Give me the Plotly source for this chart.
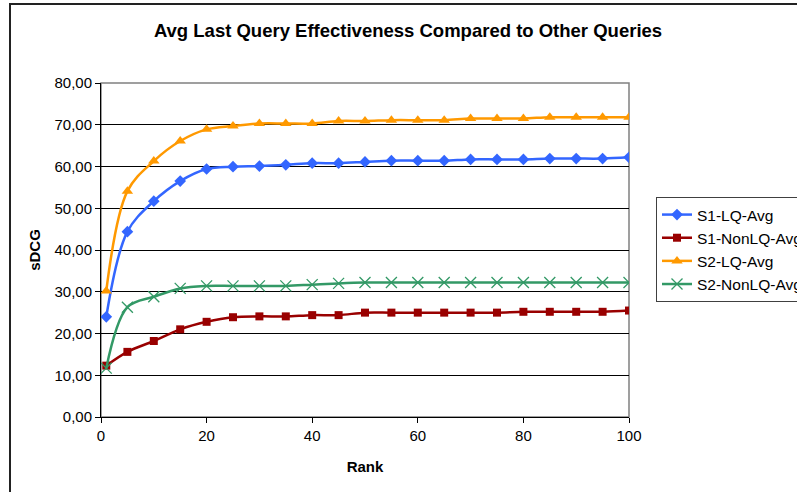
import plotly.graph_objects as go

rank = [1, 5, 10, 15, 20, 25, 30, 35, 40, 45, 50, 55, 60, 65, 70, 75, 80, 85, 90, 95, 100]

s1_lq = [24.0, 44.4, 51.7, 56.5, 59.4, 59.95, 60.1, 60.4, 60.8, 60.8, 61.1,
         61.4, 61.4, 61.4, 61.7, 61.7, 61.7, 61.9, 61.9, 61.9, 62.2]
s1_nonlq = [12.3, 15.6, 18.2, 21.0, 22.8, 23.9, 24.1, 24.1, 24.4, 24.4, 25.0,
            25.0, 25.0, 25.0, 25.0, 25.0, 25.2, 25.2, 25.2, 25.2, 25.5]
s2_lq = [30.2, 54.1, 61.3, 66.1, 68.9, 69.7, 70.3, 70.3, 70.3, 70.9, 70.9,
         71.1, 71.1, 71.1, 71.5, 71.5, 71.5, 71.8, 71.8, 71.8, 71.8]
s2_nonlq = [11.7, 26.3, 28.8, 30.8, 31.4, 31.4, 31.4, 31.4, 31.7, 32.0, 32.2,
            32.2, 32.2, 32.2, 32.2, 32.2, 32.2, 32.2, 32.2, 32.2, 32.2]

series_names = ["S1-LQ-Avg", "S1-NonLQ-Avg", "S2-LQ-Avg", "S2-NonLQ-Avg"]
x_ticks = [0, 20, 40, 60, 80, 100]
y_ticks = [0, 10, 20, 30, 40, 50, 60, 70, 80]

FONT = "Liberation Sans, Arial, sans-serif"

styles = [
    dict(color="#3366FF", symbol="diamond", size=9, lw=0),
    dict(color="#990000", symbol="square", size=8, lw=0),
    dict(color="#FF9900", symbol="triangle-up", size=10, lw=0),
    dict(color="#339966", symbol="x-thin-open", size=11, lw=1.3),
]

fig = go.Figure()
for name, ys, st in zip(series_names, [s1_lq, s1_nonlq, s2_lq, s2_nonlq], styles):
    fig.add_trace(go.Scatter(
        x=rank, y=ys, name=name, mode="lines+markers",
        line=dict(color=st["color"], width=2.5, shape="spline", smoothing=1.0),
        marker=dict(symbol=st["symbol"], size=st["size"], color=st["color"],
                    line=dict(color=st["color"], width=st["lw"])),
    ))

L, R, T, B = 101, 168, 83, 75
W, H = 797, 492
pw, ph = W - L - R, H - T - B

fig.update_layout(
    width=W, height=H,
    margin=dict(l=L, r=R, t=T, b=B, autoexpand=False),
    paper_bgcolor="white", plot_bgcolor="white",
    separators=",.",
    font=dict(family=FONT, size=15, color="black"),
    title=dict(text="<b>Avg Last Query Effectiveness Compared to Other Queries</b>",
               x=(408 - L) / pw, xanchor="center", xref="paper", y=1 - 31 / H, yanchor="middle",
               font=dict(size=18.5, family=FONT, color="black")),
    xaxis=dict(range=[0, 100], tickvals=x_ticks, showgrid=False, zeroline=False,
               showline=True, linecolor="black", linewidth=1,
               ticks="outside", ticklen=5, tickcolor="black",
               title=dict(text="<b>Rank</b>", standoff=18, font=dict(size=15)),
               tickfont=dict(size=15)),
    yaxis=dict(range=[0, 80], tickvals=y_ticks, tickformat=".2f",
               showgrid=True, gridcolor="black", gridwidth=1, zeroline=False,
               showline=True, linecolor="black", linewidth=1,
               ticks="outside", ticklen=5, tickcolor="black",
               title=dict(text="<b>sDCG</b>", standoff=10, font=dict(size=15)),
               tickfont=dict(size=15)),
    legend=dict(x=(656 - L) / pw, xanchor="left", y=1 - (197 - T) / ph, yanchor="top",
                bordercolor="#404040", borderwidth=1, bgcolor="white",
                font=dict(size=15.5, family=FONT), tracegroupgap=0, itemwidth=30),
    showlegend=True,
    shapes=[
        dict(type="rect", xref="paper", yref="paper", x0=0, x1=1, y0=0, y1=1,
             line=dict(color="#808080", width=1.5), layer="below"),
        dict(type="rect", xref="paper", yref="paper",
             x0=(10 - L) / pw, x1=(W + 20 - L) / pw,
             y0=-(H + 20 - (H - B)) / ph, y1=1 + (T - 4) / ph,
             line=dict(color="#222222", width=2)),
    ],
)

fig.write_html("out.html")
